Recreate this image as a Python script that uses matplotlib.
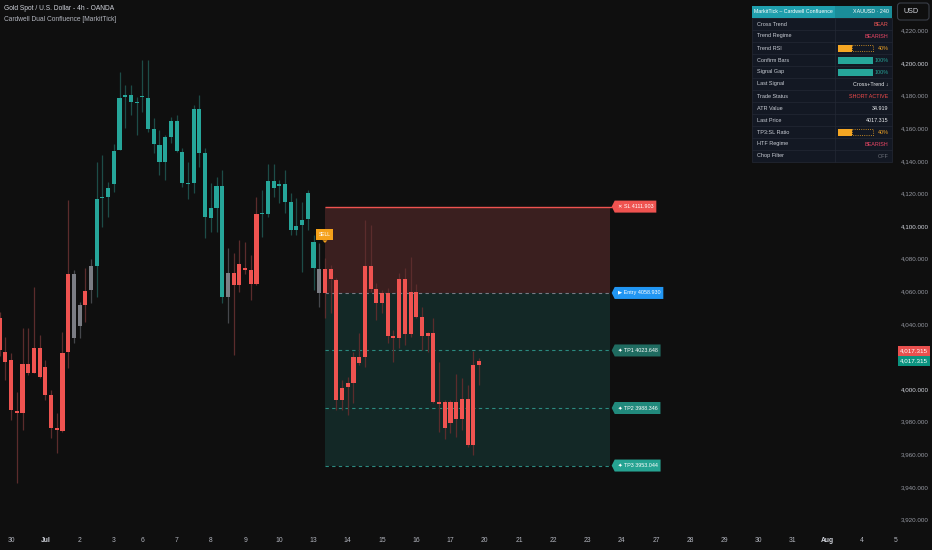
import numpy as np
import matplotlib
matplotlib.use("Agg")
import matplotlib.pyplot as plt
from matplotlib.patches import Rectangle, Polygon, FancyBboxPatch

plt.rcParams['font.family'] = ['Liberation Sans', 'DejaVu Sans']

BG = '#0f0f0f'

# XAUUSD 4h candles
opens = [4043.6, 4022.7, 4017.8, 3986.5, 3985.3, 4015.3, 4009.8, 4025.2, 4013.5, 3996.3,
         3976.1, 3974.2, 4022.7, 4070.6, 4038.7, 4051.5, 4060.7, 4075.5, 4117.2, 4117.8,
         4125.8, 4146.6, 4179.1, 4180.4, 4176.1, 4179.1, 4178.5, 4159.5, 4149.7, 4139.3,
         4154.6, 4164.4, 4145.4, 4126.4, 4126.4, 4171.8, 4144.8, 4104.9, 4111.0, 4124.5,
         4056.4, 4071.2, 4063.8, 4074.2, 4073.0, 4064.4, 4107.4, 4107.4, 4127.6, 4124.5,
         4125.8, 4114.7, 4097.5, 4100.6, 4104.3, 4090.2, 4073.6, 4073.6, 4073.6, 4066.9,
         3993.3, 4001.2, 4003.7, 4016.0, 4019.6, 4075.5, 4061.3, 4052.8, 4058.9, 4032.5,
         4031.3, 4067.5, 4033.7, 4059.5, 4044.2, 4032.5, 4034.4, 3992.0, 3992.0, 3979.1,
         3992.0, 3981.6, 3993.9, 3965.6, 4014.7]
highs = [4047.2, 4031.9, 4022.1, 3998.2, 4037.4, 4037.4, 4062.6, 4033.1, 4017.8, 3999.4,
         3985.3, 4035.0, 4116.0, 4073.0, 4053.4, 4074.2, 4079.8, 4139.3, 4143.6, 4127.0,
         4150.3, 4194.5, 4186.5, 4186.5, 4179.1, 4201.8, 4201.8, 4166.3, 4158.9, 4155.8,
         4166.9, 4168.1, 4147.9, 4139.3, 4174.2, 4180.4, 4147.9, 4126.4, 4130.1, 4134.4,
         4086.5, 4083.4, 4091.4, 4090.2, 4082.2, 4117.8, 4122.1, 4138.0, 4138.0, 4128.2,
         4134.4, 4120.2, 4117.2, 4114.7, 4122.1, 4094.5, 4089.6, 4080.4, 4076.1, 4068.1,
         4005.5, 4007.4, 4022.7, 4034.4, 4103.7, 4100.6, 4065.0, 4060.7, 4062.0, 4036.2,
         4071.2, 4074.2, 4081.0, 4064.4, 4050.3, 4035.0, 4043.6, 4016.6, 3993.3, 3993.3,
         4009.2, 4006.7, 4002.5, 4023.3, 4019.0]
lows = [4020.2, 4005.5, 3981.0, 3942.3, 3974.8, 4008.6, 4009.8, 4006.7, 3993.3, 3969.9,
        3960.7, 3973.6, 4012.9, 4028.2, 4031.3, 4041.1, 4052.8, 4056.4, 4099.4, 4105.5,
        4120.9, 4146.6, 4160.1, 4168.1, 4155.8, 4169.9, 4157.7, 4144.8, 4131.3, 4128.2,
        4150.9, 4145.4, 4123.9, 4116.6, 4120.2, 4136.2, 4092.6, 4096.3, 4096.3, 4052.8,
        4040.5, 4020.9, 4059.5, 4070.6, 4054.6, 4063.8, 4093.3, 4105.5, 4117.8, 4114.1,
        4108.0, 4094.5, 4094.5, 4071.8, 4097.5, 4060.7, 4050.3, 4043.6, 4046.6, 3987.1,
        3987.1, 3984.0, 3991.4, 4014.7, 4013.5, 4059.5, 4042.3, 4046.6, 4028.2, 4016.6,
        4025.2, 4027.0, 4031.9, 4043.6, 4023.9, 4022.7, 3991.4, 3973.6, 3969.3, 3973.0,
        3970.6, 3974.8, 3964.4, 3959.5, 4002.5]
closes = [4023.9, 4016.6, 3987.1, 3985.3, 4015.3, 4009.8, 4025.2, 4007.4, 3996.3, 3976.1,
          3974.8, 4022.1, 4070.6, 4031.3, 4051.5, 4060.1, 4075.5, 4116.6, 4117.8, 4123.3,
          4146.0, 4178.5, 4180.4, 4176.1, 4175.5, 4179.8, 4159.5, 4150.3, 4139.3, 4154.6,
          4164.4, 4146.0, 4126.4, 4125.8, 4171.8, 4144.8, 4105.5, 4111.0, 4124.5, 4056.4,
          4071.2, 4063.8, 4076.7, 4073.0, 4064.4, 4107.4, 4108.0, 4127.6, 4123.3, 4125.8,
          4114.7, 4097.5, 4100.0, 4103.7, 4120.2, 4074.2, 4058.9, 4058.9, 4067.5, 3993.3,
          4000.6, 4003.7, 4019.6, 4019.6, 4075.5, 4061.3, 4052.8, 4058.9, 4032.5, 4031.3,
          4067.5, 4033.7, 4059.5, 4044.2, 4032.5, 4034.4, 3992.0, 3990.8, 3976.1, 3992.0,
          3981.6, 3993.9, 3965.6, 4014.7, 4017.315]
# candle colour comes from the trend regime: r = bearish, t = bullish, g = neutral
regime = list('rrrrrrrrrrrrrggrg' + 't' * 23 + 'g' + 'rrrrr' + 't' * 10 + 'g' + 'r' * 28)

day_ticks = [2, 8, 14, 20, 25, 31, 37, 43, 49, 55, 61, 67, 73, 79, 85, 91, 97, 103,
             109, 115, 121, 127, 133, 139, 145, 151, 157]
day_labels = ['30', 'Jul', '2', '3', '6', '7', '8', '9', '10', '13', '14', '15', '16', '17',
              '20', '21', '22', '23', '24', '27', '28', '29', '30', '31', 'Aug', '4', '5']
price_ticks = [3920, 3940, 3960, 3980, 4000, 4040, 4060, 4080, 4100, 4120, 4140,
               4160, 4180, 4200, 4220]

signal_bar = 57
box_bars = 50
level_names = ['SL', 'Entry', 'TP1', 'TP2', 'TP3']
level_prices = [4111.903, 4058.930, 4023.648, 3988.346, 3953.044]
last_price = 4017.315

table_rows = ['Cross Trend', 'Trend Regime', 'Trend RSI', 'Confirm Bars', 'Signal Gap',
              'Last Signal', 'Trade Status', 'ATR Value', 'Last Price', 'TP3:SL Ratio',
              'HTF Regime', 'Chop Filter']
table_vals = ['BEAR', 'BEARISH', '40%', '100%', '100%', 'Cross+Trend ↓', 'SHORT ACTIVE',
              '34.919', '4017.315', '40%', 'BEARISH', 'OFF']
table_bars = [None, None, 40, 100, 100, None, None, None, None, 40, None, None]
table_cols = ['#f05656', '#ee4766', '#f5a623', '#26a69a', '#26a69a', '#e8eaed', '#f04a4a',
              '#e8eaed', '#e8eaed', '#f5a623', '#ee4766', '#6f737c']

# ---- figure ----
W, H = 932, 550
fig = plt.figure(figsize=(W / 100, H / 100), dpi=100, facecolor=BG)
ax = fig.add_axes([0, 20 / H, 897 / W, 530 / H], facecolor=BG)
ax.set_xlim(0.05, 157.25)
ax.set_ylim(3913.5, 4238.65)
for s in ax.spines.values():
    s.set_visible(False)

body_c = {'r': '#ef5350', 't': '#26a69a', 'g': '#7b7d84'}
wick_c = {'r': '#5b2c2c', 't': '#1d4c47', 'g': '#45474c'}

x = np.arange(len(opens))
o = np.array(opens)
c = np.array(closes)
lo = np.minimum(o, c)
hgt = np.maximum(np.abs(c - o), 0.8)
ax.vlines(x, lows, highs, colors=[wick_c[r] for r in regime], lw=0.9, zorder=3)
ax.bar(x, hgt, bottom=lo, width=0.72, color=[body_c[r] for r in regime], lw=0, zorder=4)

# trade box
x0, x1 = signal_bar, signal_bar + box_bars
sl, entry, tp3 = level_prices[0], level_prices[1], level_prices[4]
ax.add_patch(Rectangle((x0, entry), box_bars, sl - entry, fc='#3a1f1f', ec='none', zorder=1))
ax.add_patch(Rectangle((x0, tp3), box_bars, entry - tp3, fc='#132826', ec='none', zorder=1))
ax.hlines(sl, x0, x1 + 0.25, colors='#ef5350', lw=1.0, zorder=2)
ax.hlines(entry, x0, x1 + 0.25, colors='#787b86', lw=0.8, linestyles=(0, (3, 3)), zorder=2)
ax.hlines(level_prices[2:], x0, x1 + 0.25, colors='#2b8a80', lw=0.8,
          linestyles=(0, (3, 3)), zorder=2)

# axes ticks
ax.yaxis.tick_right()
ax.set_yticks(price_ticks, [f'{p:,.3f}' for p in price_ticks])
ax.tick_params(axis='y', length=0, pad=2.6, labelsize=4.5, colors='#9598a1')
for lab, p in zip(ax.get_yticklabels(), price_ticks):
    if p % 100 == 0:
        lab.set_color('#d1d4dc')
ax.set_xticks(day_ticks, day_labels)
ax.tick_params(axis='x', length=0, pad=5, labelsize=4.9, colors='#b2b5be')
for lab in ax.get_xticklabels():
    if lab.get_text() in ('Jul', 'Aug'):
        lab.set_fontweight('bold')
        lab.set_color('#d1d4dc')

# overlay in pixel coordinates
ov = fig.add_axes([0, 0, 1, 1])
ov.set_xlim(0, W)
ov.set_ylim(H, 0)
ov.axis('off')
ov.patch.set_alpha(0)
renderer = fig.canvas.get_renderer()


def to_px(xd, yd):
    dx, dy = ax.transData.transform((xd, yd))
    return dx, H - dy


# title
ov.text(4, 8.5, 'Gold Spot / U.S. Dollar - 4h - OANDA', fontsize=4.8, color='#d1d4dc', va='center')
ov.text(4, 19.5, 'Cardwell Dual Confluence [MarkitTick]', fontsize=4.8, color='#b2b5be', va='center')

# SELL marker
sx, sy = to_px(signal_bar, highs[signal_bar])
ov.add_patch(Rectangle((sx - 8.5, sy - 29), 17, 11.5, fc='#f5a11a', ec='none'))
ov.add_patch(Polygon([(sx - 2.5, sy - 17.6), (sx + 2.5, sy - 17.6), (sx, sy - 15)],
                     fc='#f5a11a', ec='none'))
ov.text(sx, sy - 23.2, 'SELL', fontsize=3.6, color='white', ha='center', va='center')

# level tags
tag_cols = ['#ef5350', '#2196f3', '#1f6b60', '#21897c', '#26a392']
icons = ['✕', '▶', '✦', '✦', '✦']
for name, price, col, ic in zip(level_names, level_prices, tag_cols, icons):
    tx, ty = to_px(x1 + 0.25, price)
    t = ov.text(tx + 6, ty, f'{ic} {name} {price:.3f}', fontsize=3.9, color='white',
                va='center', ha='left', zorder=6)
    w = t.get_window_extent(renderer).width + 9
    ov.add_patch(Polygon([(tx, ty), (tx + 3, ty - 6), (tx + w, ty - 6), (tx + w, ty + 6),
                          (tx + 3, ty + 6)], fc=col, ec='none', zorder=5))

# last price tags on the scale
_, gy = to_px(0, last_price)
for yy, col in ((gy - 10, '#e9504e'), (gy, '#0b9480')):
    ov.add_patch(Rectangle((897.5, yy - 5), 32.5, 10, fc=col, ec='none'))
    ov.text(913.7, yy, f'{last_price:,.3f}', fontsize=4.5, color='white', ha='center', va='center')

# USD box
ov.add_patch(FancyBboxPatch((897.5, 3), 31.5, 17, boxstyle='round,pad=0,rounding_size=3',
                            fc=BG, ec='#3a3e48', lw=0.8))
ov.text(903, 11.5, 'USD', fontsize=5.2, color='#d1d4dc', va='center')

# dashboard table
tx0, tx1, tsplit = 751.7, 892.3, 835
ty0, head_h, row_h = 5.7, 12.3, 12
ov.add_patch(Rectangle((tx0, ty0), tsplit - tx0, head_h, fc='#1f9fad', ec='none'))
ov.add_patch(Rectangle((tsplit, ty0), tx1 - tsplit, head_h, fc='#1a8d99', ec='none'))
ov.text(754, ty0 + head_h / 2, 'MarkitTick – Cardwell Confluence', fontsize=3.75,
        color='white', va='center')
ov.text(889, ty0 + head_h / 2, 'XAUUSD · 240', fontsize=3.9, color='white',
        va='center', ha='right')
body_top = ty0 + head_h
ov.add_patch(Rectangle((tx0, body_top), tx1 - tx0, row_h * len(table_rows),
                       fc='#131823', ec='#242935', lw=0.5))
ov.vlines(tsplit, body_top, body_top + row_h * len(table_rows), colors='#242935', lw=0.5)
bx0, bw, bh = 837.5, 35, 7
for k, (lab, val, pct, col) in enumerate(zip(table_rows, table_vals, table_bars, table_cols)):
    y = body_top + row_h * k
    cy = y + row_h / 2
    if k > 0:
        ov.hlines(y, tx0, tx1, colors='#242935', lw=0.5)
    ov.text(757, cy, lab, fontsize=4.0, color='#c8ccd4', va='center')
    ov.text(888.5, cy, val, fontsize=3.9, color=col, va='center', ha='right')
    if pct is not None:
        fw = bw * pct / 100
        ov.add_patch(Rectangle((bx0, cy - bh / 2), fw, bh, fc=col, ec='none'))
        if pct < 100:
            ov.add_patch(Rectangle((bx0 + fw, cy - bh / 2 + 0.5), bw - fw, bh - 1, fc='none',
                                   ec=col, lw=0.6, ls=':'))

fig.savefig('out.png', dpi=100, facecolor=BG)
